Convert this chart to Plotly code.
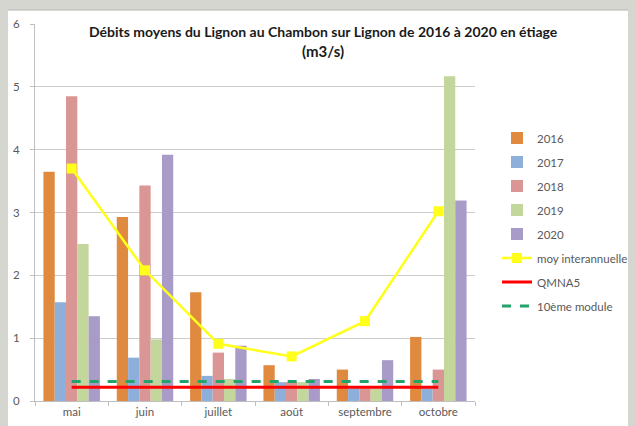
import plotly.graph_objects as go

mois = ["mai", "juin", "juillet", "août", "septembre", "octobre"]

debit_2016 = [3.65, 2.93, 1.73, 0.57, 0.50, 1.02]
debit_2017 = [1.57, 0.69, 0.40, 0.30, 0.20, 0.20]
debit_2018 = [4.85, 3.43, 0.77, 0.30, 0.20, 0.50]
debit_2019 = [2.50, 0.98, 0.35, 0.30, 0.20, 5.17]
debit_2020 = [1.35, 3.92, 0.88, 0.35, 0.65, 3.19]
moy_interannuelle = [3.70, 2.08, 0.91, 0.71, 1.27, 3.02]
qmna5 = [0.22] * 6
module_10 = [0.31] * 6

annees = ["2016", "2017", "2018", "2019", "2020"]
couleurs = ["#E08A3F", "#8FAFDB", "#D99694", "#C3D69B", "#A99BC8"]
series = [debit_2016, debit_2017, debit_2018, debit_2019, debit_2020]

gris = "#595959"
fond = "#d6d6d0"
police = "Lato"

fig = go.Figure()

# barres par année
for nom, y, c in zip(annees, series, couleurs):
    fig.add_trace(go.Bar(x=mois, y=y, name=nom, marker=dict(color=c, line_width=0),
                         legendgroup=nom))

# moyenne interannuelle
fig.add_trace(go.Scatter(x=mois, y=moy_interannuelle, name="moy interannuelle",
                         mode="lines+markers", legendgroup="moy",
                         line=dict(color="#FFFF1A", width=2.5),
                         marker=dict(symbol="square", size=10, color="#FFFF1A")))

# seuils
fig.add_trace(go.Scatter(x=mois, y=qmna5, name="QMNA5", mode="lines", legendgroup="q",
                         line=dict(color="#FF0000", width=3)))
fig.add_trace(go.Scatter(x=mois, y=module_10, name="10ème module", mode="lines",
                         legendgroup="m", line=dict(color="#22A36B", width=3, dash="dash")))

# fond gris + panneau blanc (photo d'une page)
fig.add_shape(type="rect", xref="paper", yref="paper", layer="below",
              x0=-0.066, x1=1.4, y0=-0.1, y1=1.037,
              fillcolor="white", line=dict(color="#b5b5b5", width=1))

fig.add_annotation(text="<b>Débits moyens du Lignon au Chambon sur Lignon de 2016 à 2020 en étiage</b>",
                   xref="paper", yref="paper", x=0.655, y=0.981, yanchor="middle",
                   showarrow=False, font=dict(family=police, size=14, color="#1a1a1a"))
fig.add_annotation(text="<b>(m3/s)</b>", xref="paper", yref="paper", x=0.655, y=0.928,
                   yanchor="middle", showarrow=False,
                   font=dict(family=police, size=15, color="#1a1a1a"))

fig.update_xaxes(showgrid=False, showline=True, linecolor="#bfbfbf", ticks="outside",
                 tickson="boundaries", ticklen=4, tickcolor="#bfbfbf", automargin=False,
                 tickfont=dict(family=police, size=11.5, color=gris))
fig.update_yaxes(range=[0, 6], dtick=1, showgrid=True, gridcolor="#cccccc", gridwidth=1,
                 showline=True, linecolor="#bfbfbf", ticks="outside", ticklen=4,
                 tickcolor="#bfbfbf", zeroline=False, automargin=False,
                 ticklabelstandoff=8,
                 tickfont=dict(family=police, size=11.5, color=gris))

# la page html ajoute 8 px de marge : figure un peu plus petite
fig.update_layout(
    width=628, height=418,
    margin=dict(l=27, r=161, t=16, b=25, autoexpand=False),
    barmode="group", bargap=0.23, bargroupgap=0,
    paper_bgcolor=fond, plot_bgcolor="white",
    legend=dict(x=1.05, y=0.736, xanchor="left", yanchor="top", traceorder="grouped",
                tracegroupgap=5, bgcolor="rgba(0,0,0,0)",
                font=dict(family=police, size=11.5, color=gris)),
)

fig.write_html("out.html", post_script=f"document.body.style.background='{fond}';")
